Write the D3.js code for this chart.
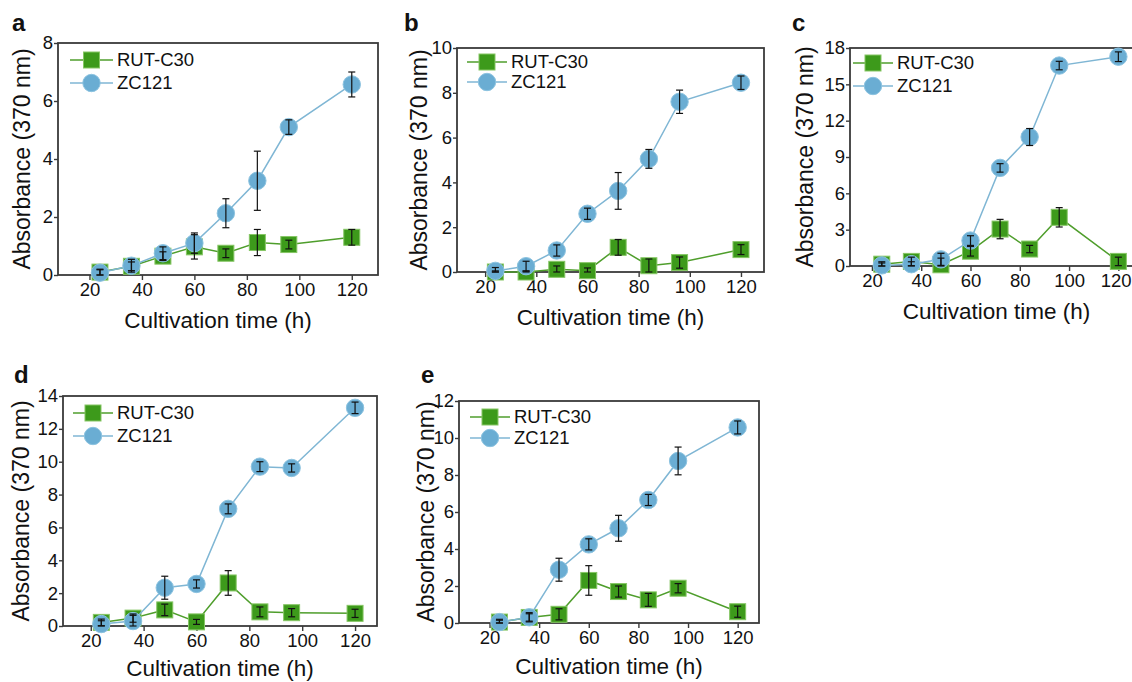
<!DOCTYPE html>
<html>
<head>
<meta charset="utf-8">
<script src="https://cdn.jsdelivr.net/npm/d3@7"></script>
<style>
  html, body { margin: 0; padding: 0; background: #ffffff; }
  svg { display: block; font-family: "Liberation Sans", Arial, sans-serif; }
</style>
</head>
<body>
<svg id="chart" width="1132" height="682"></svg>
<script>
// ---------------- DATA ----------------
const times = [24, 36, 48, 60, 72, 84, 96, 120];
const xTicks = [20, 40, 60, 80, 100, 120];
const seriesNames = ["RUT-C30", "ZC121"];
const panelLetters = ["a", "b", "c", "d", "e"];
const xTitle = "Cultivation time (h)";
const yTitle = "Absorbance (370 nm)";

const yTicksA = [0, 2, 4, 6, 8];
const yTicksB = [0, 2, 4, 6, 8, 10];
const yTicksC = [0, 3, 6, 9, 12, 15, 18];
const yTicksD = [0, 2, 4, 6, 8, 10, 12, 14];
const yTicksE = [0, 2, 4, 6, 8, 10, 12];

// panel a
const rutA    = [0.10, 0.30, 0.65, 0.97, 0.75, 1.12, 1.05, 1.30];
const rutErrA = [0.10, 0.15, 0.15, 0.42, 0.15, 0.45, 0.15, 0.27];
const zcA     = [0.08, 0.32, 0.75, 1.10, 2.13, 3.25, 5.10, 6.57];
const zcErrA  = [0.10, 0.22, 0.22, 0.35, 0.50, 1.02, 0.25, 0.43];
// panel b
const rutB    = [0.00, 0.00, 0.12, 0.06, 1.10, 0.28, 0.42, 1.00];
const rutErrB = [0.05, 0.05, 0.15, 0.12, 0.35, 0.30, 0.25, 0.22];
const zcB     = [0.05, 0.26, 0.96, 2.60, 3.62, 5.05, 7.60, 8.45];
const zcErrB  = [0.15, 0.22, 0.25, 0.25, 0.82, 0.42, 0.52, 0.30];
// panel c
const rutC    = [0.15, 0.38, 0.10, 1.22, 3.05, 1.40, 4.02, 0.38];
const rutErrC = [0.20, 0.35, 0.55, 0.40, 0.80, 0.30, 0.80, 0.35];
const zcC     = [0.05, 0.15, 0.55, 2.10, 8.10, 10.65, 16.55, 17.28];
const zcErrC  = [0.20, 0.20, 0.50, 0.40, 0.35, 0.70, 0.35, 0.40];
// panel d
const rutD    = [0.22, 0.48, 0.98, 0.25, 2.62, 0.86, 0.81, 0.77];
const rutErrD = [0.20, 0.25, 0.35, 0.15, 0.75, 0.30, 0.25, 0.25];
const zcD     = [0.12, 0.30, 2.33, 2.56, 7.13, 9.70, 9.62, 13.28];
const zcErrD  = [0.20, 0.35, 0.70, 0.25, 0.30, 0.30, 0.25, 0.35];
// panel e
const rutE    = [0.05, 0.30, 0.47, 2.30, 1.70, 1.25, 1.88, 0.61];
const rutErrE = [0.10, 0.20, 0.30, 0.80, 0.30, 0.35, 0.25, 0.30];
const zcE     = [0.05, 0.31, 2.88, 4.25, 5.12, 6.65, 8.76, 10.57];
const zcErrE  = [0.15, 0.25, 0.62, 0.30, 0.70, 0.30, 0.75, 0.35];

const panelData = [
  { letter: panelLetters[0], yTicks: yTicksA, rut: rutA, rutErr: rutErrA, zc: zcA, zcErr: zcErrA },
  { letter: panelLetters[1], yTicks: yTicksB, rut: rutB, rutErr: rutErrB, zc: zcB, zcErr: zcErrB },
  { letter: panelLetters[2], yTicks: yTicksC, rut: rutC, rutErr: rutErrC, zc: zcC, zcErr: zcErrC },
  { letter: panelLetters[3], yTicks: yTicksD, rut: rutD, rutErr: rutErrD, zc: zcD, zcErr: zcErrD },
  { letter: panelLetters[4], yTicks: yTicksE, rut: rutE, rutErr: rutErrE, zc: zcE, zcErr: zcErrE }
];

// ---------------- LAYOUT ----------------
const layout = [
  { left: 58,  right: 378,  top: 43,  bottom: 275, xd: [8, 130],     xtY: 328, ylabX: 30,  letX: 12,  letY: 31,  leg: [12, 55, 17, 40] },
  { left: 457, right: 764,  top: 48,  bottom: 272, xd: [9, 129],     xtY: 325, ylabX: 427, letX: 404, letY: 31,  leg: [10, 50, 14, 34] },
  { left: 850, right: 1143, top: 48,  bottom: 266, xd: [11.1, 130],  xtY: 319, ylabX: 813, letX: 792, letY: 31,  leg: [3, 43, 15, 38] },
  { left: 63,  right: 377,  top: 396, bottom: 626, xd: [9.5, 128.3], xtY: 676, ylabX: 29,  letX: 14,  letY: 383, leg: [10, 50, 17, 40] },
  { left: 459, right: 759,  top: 401, bottom: 623, xd: [7.7, 128.6], xtY: 674, ylabX: 434, letX: 421, letY: 383, leg: [11, 51, 16, 37] }
];

const GREEN_LINE = "#4f9e2c", GREEN_FILL = "#3d9a1b", GREEN_EDGE = "#86c665";
const BLUE_LINE = "#7fb6d4", BLUE_FILL = "#6aadd3", BLUE_EDGE = "#8cc3e0";
const FRAME = "#3a3a3a";
const SQ = 16, R = 8.7;
const W = 1132;

const svg = d3.select("#chart");

panelData.forEach((p, i) => {
  const L = layout[i];
  const x = d3.scaleLinear().domain(L.xd).range([L.left, L.right]);
  const y = d3.scaleLinear().domain([0, p.yTicks[p.yTicks.length - 1]]).range([L.bottom, L.top]);
  const g = svg.append("g");

  // axes
  const xAxis = d3.axisBottom(x).tickValues(xTicks).tickSize(5).tickSizeOuter(0).tickPadding(3);
  const gx = g.append("g").attr("transform", `translate(0,${L.bottom})`).call(xAxis);
  const yAxis = d3.axisLeft(y).tickValues(p.yTicks).tickSize(4).tickSizeOuter(0).tickPadding(1);
  const gy = g.append("g").attr("transform", `translate(${L.left},0)`).call(yAxis);
  [gx, gy].forEach(a => {
    a.select(".domain").remove();
    a.selectAll(".tick line").attr("stroke", FRAME).attr("stroke-width", 1.4);
    a.selectAll(".tick text").attr("fill", "#111").style("font-size", "18.5px")
      .style("font-family", "'Liberation Sans', Arial, sans-serif");
  });
  // keep tick labels inside the picture's right edge
  gx.selectAll(".tick").each(function (d) {
    const t = d3.select(this).select("text");
    const bb = t.node().getBBox();
    const absRight = x(d) + bb.x + bb.width;
    if (absRight > W - 1) t.attr("dx", (W - 1 - absRight) + "px");
  });

  // frame
  g.append("rect")
    .attr("x", L.left).attr("y", L.top)
    .attr("width", L.right - L.left).attr("height", L.bottom - L.top)
    .attr("fill", "none").attr("stroke", FRAME).attr("stroke-width", 1.8);

  // titles
  g.append("text")
    .attr("x", (L.left + L.right) / 2).attr("y", L.xtY)
    .attr("text-anchor", "middle").style("font-size", "22.5px").attr("fill", "#111")
    .text(xTitle);
  g.append("text")
    .attr("transform", `translate(${L.ylabX},${(L.top + L.bottom) / 2}) rotate(-90)`)
    .attr("text-anchor", "middle").style("font-size", "23px").attr("fill", "#111")
    .text(yTitle);
  g.append("text")
    .attr("x", L.letX).attr("y", L.letY)
    .style("font-size", "24px").style("font-weight", "bold").attr("fill", "#111")
    .text(p.letter);

  const line = d3.line().x((d, k) => x(times[k])).y(d => y(d));

  // RUT-C30
  g.append("path").datum(p.rut).attr("d", line)
    .attr("fill", "none").attr("stroke", GREEN_LINE).attr("stroke-width", 1.5);
  g.selectAll(".sq").data(p.rut).enter().append("rect")
    .attr("x", (d, k) => x(times[k]) - SQ / 2).attr("y", d => y(d) - SQ / 2)
    .attr("width", SQ).attr("height", SQ)
    .attr("fill", GREEN_FILL).attr("stroke", GREEN_EDGE).attr("stroke-width", 1);

  // ZC121
  g.append("path").datum(p.zc).attr("d", line)
    .attr("fill", "none").attr("stroke", BLUE_LINE).attr("stroke-width", 1.5);
  g.selectAll(".ci").data(p.zc).enter().append("circle")
    .attr("cx", (d, k) => x(times[k])).attr("cy", d => y(d)).attr("r", R)
    .attr("fill", BLUE_FILL).attr("stroke", BLUE_EDGE).attr("stroke-width", 1);

  // error bars
  const drawErr = (vals, errs) => {
    vals.forEach((v, k) => {
      const cx = x(times[k]);
      const lo = y(Math.max(0, v - errs[k])), hi = y(v + errs[k]);
      const eg = g.append("g").attr("stroke", "#111").attr("stroke-width", 1.2);
      eg.append("line").attr("x1", cx).attr("x2", cx).attr("y1", lo).attr("y2", hi);
      eg.append("line").attr("x1", cx - 3.5).attr("x2", cx + 3.5).attr("y1", hi).attr("y2", hi);
      eg.append("line").attr("x1", cx - 3.5).attr("x2", cx + 3.5).attr("y1", lo).attr("y2", lo);
    });
  };
  drawErr(p.rut, p.rutErr);
  drawErr(p.zc, p.zcErr);

  // legend
  const [l0, l1, r0, r1] = L.leg;
  const lx0 = L.left + l0, lx1 = L.left + l1, lc = (lx0 + lx1) / 2;
  const ly0 = L.top + r0, ly1 = L.top + r1;
  g.append("line").attr("x1", lx0).attr("x2", lx1).attr("y1", ly0).attr("y2", ly0)
    .attr("stroke", GREEN_LINE).attr("stroke-width", 1.5);
  g.append("rect").attr("x", lc - SQ / 2).attr("y", ly0 - SQ / 2).attr("width", SQ).attr("height", SQ)
    .attr("fill", GREEN_FILL).attr("stroke", GREEN_EDGE).attr("stroke-width", 1);
  g.append("text").attr("x", lx1 + 4).attr("y", ly0).attr("dy", "0.35em")
    .style("font-size", "18.5px").attr("fill", "#111").text(seriesNames[0]);
  g.append("line").attr("x1", lx0).attr("x2", lx1).attr("y1", ly1).attr("y2", ly1)
    .attr("stroke", BLUE_LINE).attr("stroke-width", 1.5);
  g.append("circle").attr("cx", lc).attr("cy", ly1).attr("r", R)
    .attr("fill", BLUE_FILL).attr("stroke", BLUE_EDGE).attr("stroke-width", 1);
  g.append("text").attr("x", lx1 + 4).attr("y", ly1).attr("dy", "0.35em")
    .style("font-size", "18.5px").attr("fill", "#111").text(seriesNames[1]);
});
</script>
</body>
</html>
